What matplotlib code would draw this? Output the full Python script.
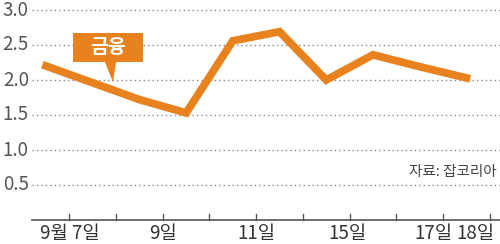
import matplotlib.pyplot as plt
from matplotlib.patches import Rectangle, Polygon

# daily values (index of trading days)
values = [2.20, 1.96, 1.72, 1.53, 2.56, 2.69, 2.00, 2.36, 2.19, 2.03]
tick_labels = ["9월 7일", "", "9일", "", "11일", "", "15일", "", "17일", "18일"]
y_ticks = [0.5, 1.0, 1.5, 2.0, 2.5, 3.0]
series_name = "금융"
source_note = "자료: 잡코리아"

orange = "#E8821E"
fonts = ["Liberation Sans Narrow", "Noto Sans CJK KR", "DejaVu Sans"]
plt.rcParams["font.family"] = fonts

fig = plt.figure(figsize=(5.0, 2.44), dpi=100)
ax = fig.add_axes([32 / 500, 24 / 244, 468 / 500, 210 / 244])

x = list(range(len(values)))
ax.plot(x, values, color=orange, lw=5.6, solid_joinstyle="miter", zorder=3)

ax.set_xlim(-0.3, 9.72)
ax.set_ylim(0, 3.0)

for v in y_ticks:
    ax.axhline(v, color="#888888", lw=1.0, ls=(0, (1, 2.2)), clip_on=False, zorder=1)
    ax.text(-0.37, v, f"{v:.1f}", ha="right", va="center", fontsize=13.5, color="#555555",
            family=fonts)

# baseline and ticks
ax.axhline(0, color="#555555", lw=1.2, clip_on=False)
for i in range(len(tick_labels)):
    ax.plot([i + 0.5, i + 0.5], [0, 0.085], color="#555555", lw=1.0, clip_on=False)

# labels sit on their ticks, the last two squeezed to fit
label_pos = [0.5, None, 2.5, None, 4.5, None, 6.45, None, 8.3, 9.6]
for lab, pos in zip(tick_labels, label_pos):
    if lab:
        ha = "right" if pos == label_pos[-1] else "center"
        ax.text(pos, -0.19, lab, ha=ha, va="center", fontsize=13.5,
                color="#333333", family=fonts)

# label box with pointer
ax.add_patch(Rectangle((0.577, 2.257), 1.496, 0.414, color=orange, zorder=4, lw=0))
ax.add_patch(Polygon([(1.26, 2.26), (1.50, 2.26), (1.432, 1.971)], color=orange,
                     zorder=4, lw=0))
ax.text(1.325, 2.464, series_name, ha="center", va="center", fontsize=14,
        fontweight="bold", color="white", zorder=5, family=fonts)

ax.text(9.64, 0.68, source_note, ha="right", va="center", fontsize=10.5,
        color="#444444", family=fonts)

ax.axis("off")
fig.savefig("out.png", dpi=100)
